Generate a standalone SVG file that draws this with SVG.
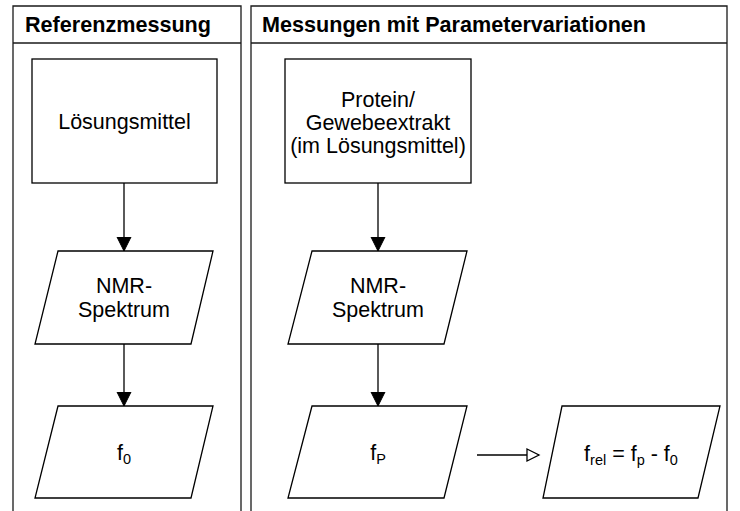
<svg xmlns="http://www.w3.org/2000/svg" width="740" height="511" viewBox="0 0 740 511">
<defs>
<style>
.lane{fill:none;stroke:#1a1a1a;stroke-width:1.3}
.shape{fill:#fff;stroke:#000;stroke-width:1.3}
.conn{fill:none;stroke:#000;stroke-width:1.3}
.hd{font-family:"Liberation Sans",Arial,sans-serif;font-weight:bold;font-size:21.6px;fill:#000}
.lb{font-family:"Liberation Sans",Arial,sans-serif;font-size:21.5px;fill:#000;text-anchor:middle}
.sub{font-size:14.5px}
</style>
<marker id="fillArrow" markerUnits="userSpaceOnUse" markerWidth="16" markerHeight="16" viewBox="0 0 16 16" refX="14" refY="8" orient="auto">
<path d="M0,1 L14,8 L0,15 Z" fill="#000" stroke="#000" stroke-width="1"/>
</marker>
<marker id="openArrow" markerUnits="userSpaceOnUse" markerWidth="16" markerHeight="16" viewBox="0 0 16 16" refX="13" refY="8" orient="auto">
<path d="M1,2 L13,8 L1,14 Z" fill="#fff" stroke="#000" stroke-width="1.3"/>
</marker>
</defs>

<g id="lane-referenz">
<path class="lane" d="M13,520 L13,6 L241,6 L241,520"/>
<line class="lane" x1="13" y1="43" x2="241" y2="43"/>
<text class="hd" x="25" y="32">Referenzmessung</text>
</g>

<g id="lane-messungen">
<path class="lane" d="M251,520 L251,6 L727,6 L727,520"/>
<line class="lane" x1="251" y1="43" x2="727" y2="43"/>
<text class="hd" x="262" y="32">Messungen mit Parametervariationen</text>
</g>

<g id="connectors">
<line class="conn" x1="124" y1="183" x2="124" y2="251" marker-end="url(#fillArrow)"/>
<line class="conn" x1="124" y1="344" x2="124" y2="406" marker-end="url(#fillArrow)"/>
<line class="conn" x1="378" y1="183" x2="378" y2="251" marker-end="url(#fillArrow)"/>
<line class="conn" x1="378" y1="344" x2="378" y2="406" marker-end="url(#fillArrow)"/>
<line class="conn" x1="477" y1="455" x2="539" y2="455" marker-end="url(#openArrow)"/>
</g>

<g id="node-loesungsmittel">
<rect class="shape" x="32" y="59" width="185" height="124"/>
<text class="lb" x="124.5" y="129">Lösungsmittel</text>
</g>

<g id="node-nmr-ref">
<polygon class="shape" points="58,251 213,251 191,344 35,344"/>
<text class="lb" x="124" y="293">NMR-</text>
<text class="lb" x="124" y="317">Spektrum</text>
</g>

<g id="node-f0">
<polygon class="shape" points="58,406 213,406 191,498 35,498"/>
<text class="lb" x="124" y="460">f<tspan class="sub" dy="3.5">0</tspan></text>
</g>

<g id="node-protein">
<rect class="shape" x="285" y="59" width="186" height="124"/>
<text class="lb" x="378" y="106.5">Protein/</text>
<text class="lb" x="378" y="130">Gewebeextrakt</text>
<text class="lb" x="378" y="153">(im Lösungsmittel)</text>
</g>

<g id="node-nmr-param">
<polygon class="shape" points="312,251 467,251 444,344 288,344"/>
<text class="lb" x="378" y="293">NMR-</text>
<text class="lb" x="378" y="317">Spektrum</text>
</g>

<g id="node-fp">
<polygon class="shape" points="312,406 467,406 444,498 288,498"/>
<text class="lb" x="378" y="460">f<tspan class="sub" dy="3.5">P</tspan></text>
</g>

<g id="node-frel">
<polygon class="shape" points="562,406 720,406 698,498 543,498"/>
<text class="lb" x="631" y="461">f<tspan class="sub" dy="3.5">rel</tspan><tspan dy="-3.5"> = f</tspan><tspan class="sub" dy="3.5">p</tspan><tspan dy="-3.5"> - f</tspan><tspan class="sub" dy="3.5">0</tspan></text>
</g>
</svg>
